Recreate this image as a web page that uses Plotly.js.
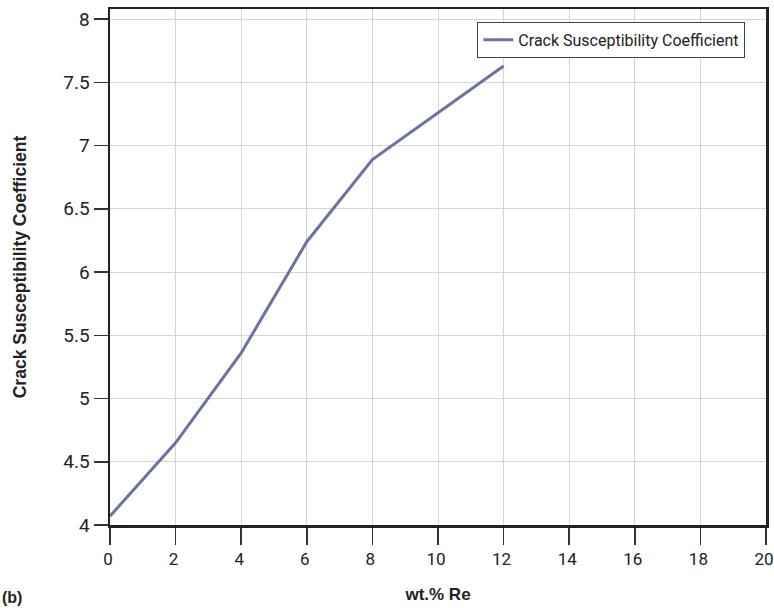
<!DOCTYPE html>
<html>
<head>
<meta charset="utf-8">
<script src="https://cdn.plot.ly/plotly-3.0.1.min.js"></script>
<style>
  html, body { margin: 0; padding: 0; background: #fff; }
  #chart { width: 774px; height: 608px; }
</style>
</head>
<body>
<div id="chart"></div>
<script>
// Rhenium content (wt.%) and the measured crack susceptibility coefficient
const reContent = [0, 2, 4, 6, 8, 10, 12];
const crackCoeff = [4.07, 4.65, 5.36, 6.24, 6.89, 7.26, 7.63];
const xTicks = [0, 2, 4, 6, 8, 10, 12, 14, 16, 18, 20];
const yTicks = [4, 4.5, 5, 5.5, 6, 6.5, 7, 7.5, 8];
const yTickText = ['4', '4.5', '5', '5.5', '6', '6.5', '7', '7.5', '8'];

const narrow = 'Roboto, "Liberation Sans Narrow", sans-serif';
const bold = '"Liberation Sans", Arial, sans-serif';

const trace = {
  x: reContent,
  y: crackCoeff,
  type: 'scatter',
  mode: 'lines',
  name: 'Crack Susceptibility Coefficient',
  line: { color: '#6b739f', width: 3 }
};

const layout = {
  width: 774,
  height: 608,
  margin: { l: 110, r: 8, t: 9, b: 83 },
  paper_bgcolor: '#ffffff',
  plot_bgcolor: '#ffffff',
  showlegend: true,
  legend: {
    x: 0.56, y: 0.975, xanchor: 'left', yanchor: 'top',
    bgcolor: '#ffffff', bordercolor: '#444', borderwidth: 1,
    font: { family: narrow, size: 16, color: '#222' },
    itemwidth: 30
  },
  xaxis: {
    range: [0, 20],
    tickvals: xTicks,
    ticks: 'outside', ticklen: 17, tickwidth: 1.5, tickcolor: '#333',
    ticklabeloverflow: 'allow',
    ticklabelshift: -2,
    showgrid: true, gridcolor: '#d4d4d4', gridwidth: 1,
    showline: true, linecolor: '#222', linewidth: 2.5, mirror: true,
    zeroline: false,
    tickfont: { family: narrow, size: 17, color: '#222' },
    title: { text: '<b>wt.% Re</b>', font: { family: bold, size: 17, color: '#222' }, standoff: 20 }
  },
  yaxis: {
    range: [4, 8.08],
    tickvals: yTicks, ticktext: yTickText,
    ticks: 'outside', ticklen: 14, tickwidth: 1.5, tickcolor: '#333',
    showgrid: true, gridcolor: '#d4d4d4', gridwidth: 1,
    showline: true, linecolor: '#222', linewidth: 2.5, mirror: true,
    zeroline: false,
    tickfont: { family: narrow, size: 19, color: '#222' },
    title: { text: '<b>Crack Susceptibility Coefficient</b>', font: { family: bold, size: 17.5, color: '#222' }, standoff: 32 }
  },
  annotations: [{
    text: '<b>(b)</b>', xref: 'paper', yref: 'paper', x: -0.167, y: -0.14,
    xanchor: 'left', yanchor: 'middle', showarrow: false,
    font: { family: bold, size: 16, color: '#222' }
  }]
};

Plotly.newPlot('chart', [trace], layout, { displayModeBar: false, staticPlot: true });
</script>
</body>
</html>
